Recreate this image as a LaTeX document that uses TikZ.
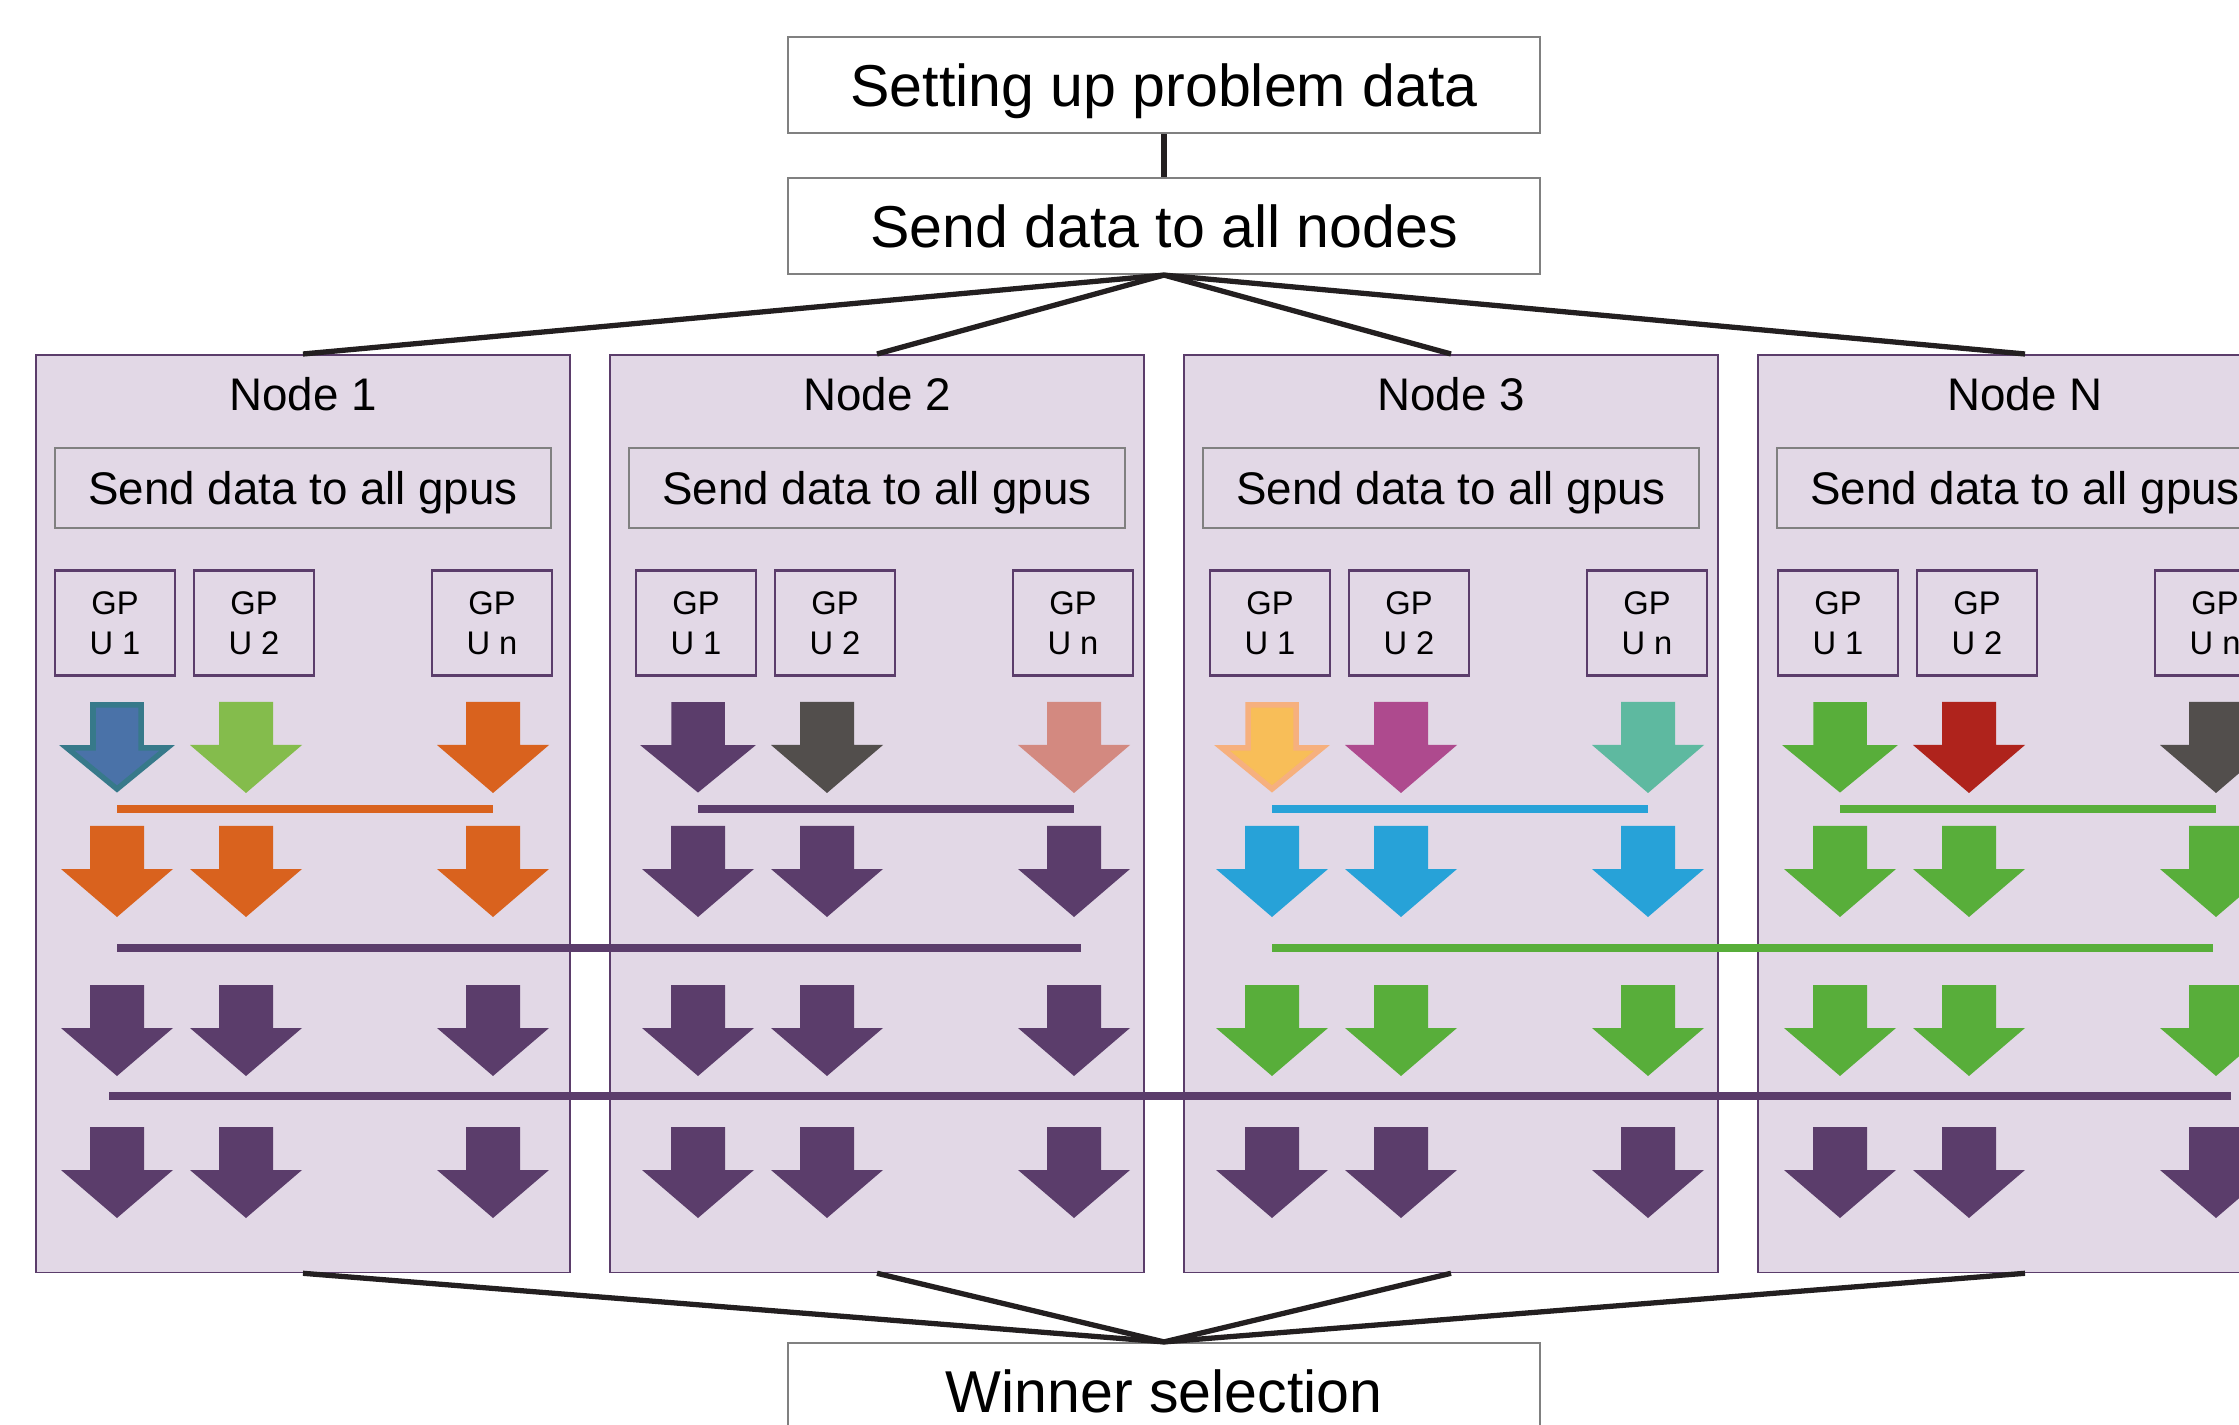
\documentclass[tikz,border=0pt]{standalone}
\usepackage{fontspec}
\setmainfont{Liberation Sans}
\usetikzlibrary{positioning, calc}
\definecolor{lavender}{RGB}{226,216,230}
\definecolor{plum}{RGB}{91,61,107}
\definecolor{boxgray}{RGB}{128,128,128}
\definecolor{linkdark}{RGB}{35,31,32}
\definecolor{rust}{RGB}{217,98,30}
\definecolor{steel}{RGB}{74,114,168}
\definecolor{steeledge}{RGB}{55,121,138}
\definecolor{lime}{RGB}{132,188,76}
\definecolor{charcoal}{RGB}{82,78,76}
\definecolor{salmon}{RGB}{211,137,128}
\definecolor{gold}{RGB}{248,190,88}
\definecolor{goldedge}{RGB}{246,176,126}
\definecolor{magenta}{RGB}{174,74,142}
\definecolor{seafoam}{RGB}{94,185,160}
\definecolor{sky}{RGB}{39,162,216}
\definecolor{grass}{RGB}{88,174,58}
\definecolor{brick}{RGB}{175,35,28}
\tikzset{
  every node/.style={font=\fontsize{13}{15}\selectfont, text=black},
  stagebox/.style={draw=boxgray, fill=white, line width=0.6pt, minimum width=7.51cm, minimum height=0.96cm, text depth=0pt, font=\fontsize{16.8}{20}\selectfont},
  nodebox/.style={draw=plum, fill=lavender, line width=0.5pt, minimum width=5.34cm, minimum height=9.17cm, anchor=north},
  sendbox/.style={draw=boxgray, line width=0.6pt, minimum width=4.96cm, minimum height=0.80cm, text depth=0pt},
  gpubox/.style={draw=plum, line width=0.6pt, minimum width=1.195cm, minimum height=1.05cm, align=center, font=\fontsize{9.3}{11.4}\selectfont},
  link/.style={draw=linkdark, line width=1.5pt},
  bar/.style={line width=0.08cm},
  dnarrow/.pic={\path[pic actions] (-27,0) -- (27,0) -- (27,43) -- (56,43) -- (0,91) -- (-56,43) -- (-27,43) -- cycle;},
  rimarrow/.pic={\path[pic actions] (-24,3) -- (24,3) -- (24,46) -- (50,46) -- (0,87) -- (-50,46) -- (-24,46) -- cycle;},
}

\begin{document}
\begin{tikzpicture}[x=0.01cm, y=-0.01cm]
  \clip (0,0) rectangle (2239,1425);

  % ---- top stages ----------------------------------------------------------
  \node[stagebox] (setup) at (1164,85) {Setting up problem data};
  \node[stagebox] (send) at (1164,226) {Send data to all nodes};
  \node[stagebox] (win) at (1164,1391) {Winner selection};
  \draw[link] (setup) -- (send);

  % ---- compute nodes -------------------------------------------------------
  \foreach \i/\lab/\sh in {1/1/-7, 2/2/0, 3/3/0, 4/N/-6} {
    \node[nodebox] (n\i) at ({303+574*(\i-1)},354) {};
    \node (t\i) at ($(n\i.north)+(0,40)$) {Node \lab};
    \node[sendbox] (s\i) at ($(n\i.north)+(0,134)$) {Send data to all gpus};
    \node[gpubox] (g\i1) at ($(n\i.north)+(\sh-181,269)$) {GP\\U 1};
    \node[gpubox] (g\i2) at ($(n\i.north)+(\sh-42,269)$) {GP\\U 2};
    \node[gpubox] (g\i3) at ($(n\i.north)+(\sh+196,269)$) {GP\\U n};
    \coordinate (c\i1) at ($(n\i.north)+(\sh-179,0)$);
    \coordinate (c\i2) at ($(n\i.north)+(\sh-50,0)$);
    \coordinate (c\i3) at ($(n\i.north)+(\sh+197,0)$);
    \draw[link] (send.south) -- (n\i.north);
    \draw[link] (n\i.south) -- (win.north);
  }

  % ---- first round: own results --------------------------------------------
  \foreach \i/\ca/\ea/\cb/\cc/\cr in {1/steel/steeledge/lime/rust/rust,
      2/plum/plum/charcoal/salmon/plum, 3/gold/goldedge/magenta/seafoam/sky,
      4/grass/grass/brick/charcoal/grass} {
    \pic[fill=\ca, draw=\ea, line width=0.055cm] at (c\i1 |- 0,702) {rimarrow};
    \pic[fill=\cb] at (c\i2 |- 0,702) {dnarrow};
    \pic[fill=\cc] at (c\i3 |- 0,702) {dnarrow};
    \draw[bar, draw=\cr] (c\i1 |- 0,809) -- (c\i3 |- 0,809);
    \foreach \k in {1,2,3} \pic[fill=\cr] at (c\i\k |- 0,826) {dnarrow};
  }

  % ---- second round: pairs of nodes ----------------------------------------
  \draw[bar, draw=plum] (c11 |- 0,948) -- ($(c23 |- 0,948)+(7,0)$);
  \draw[bar, draw=grass] (c31 |- 0,948) -- ($(c43 |- 0,948)+(-3,0)$);
  \foreach \i/\cr in {1/plum, 2/plum, 3/grass, 4/grass}
    \foreach \k in {1,2,3} \pic[fill=\cr] at (c\i\k |- 0,985) {dnarrow};

  % ---- last round: all nodes -----------------------------------------------
  \draw[bar, draw=plum] ($(c11 |- 0,1096)+(-8,0)$) -- ($(c43 |- 0,1096)+(15,0)$);
  \foreach \i in {1,...,4}
    \foreach \k in {1,2,3} \pic[fill=plum] at (c\i\k |- 0,1127) {dnarrow};
\end{tikzpicture}
\end{document}
